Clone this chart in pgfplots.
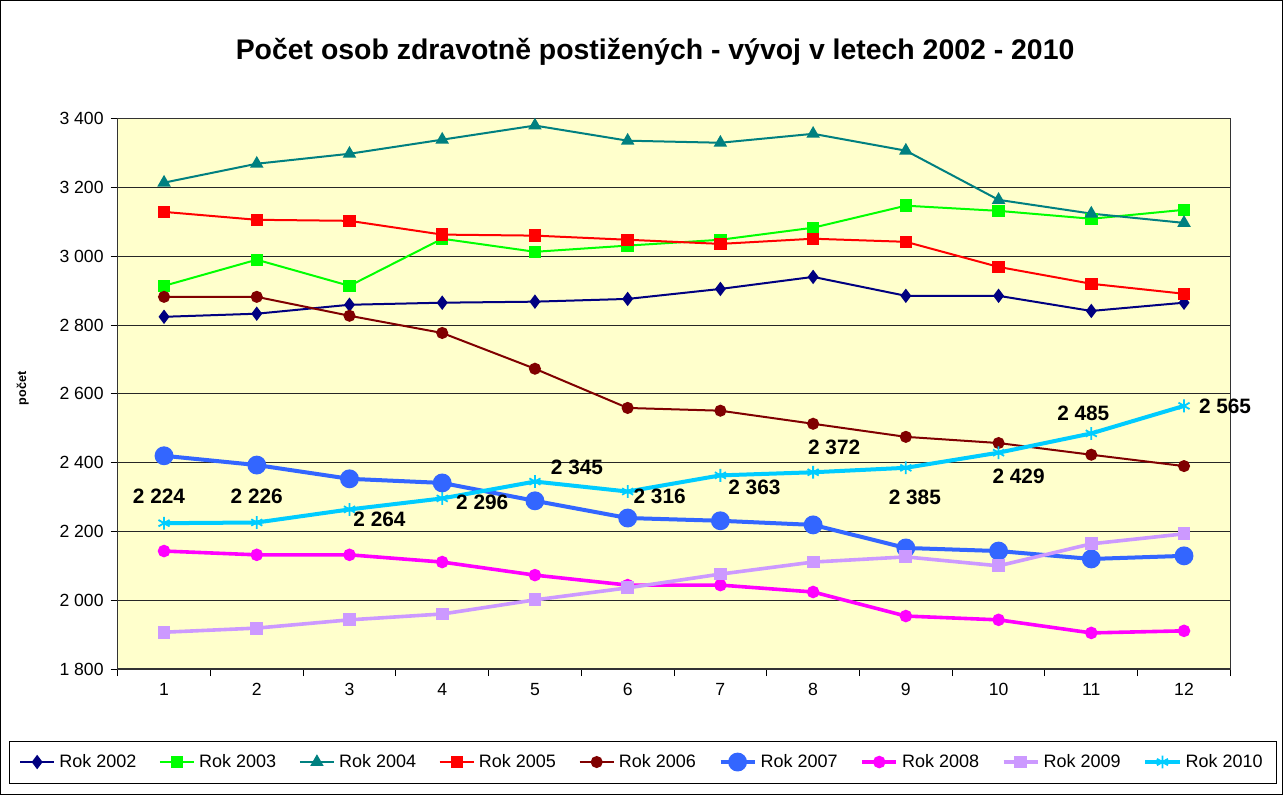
\documentclass[border=0pt]{standalone}
\usepackage{fontspec}
\setmainfont{Liberation Sans}
\usepackage{pgfplots}
\usepackage{pgfplotstable}
\pgfplotsset{compat=1.18}

\definecolor{c2002}{HTML}{000080}
\definecolor{c2003}{HTML}{00FF00}
\definecolor{c2004}{HTML}{008080}
\definecolor{c2005}{HTML}{FF0000}
\definecolor{c2006}{HTML}{800000}
\definecolor{c2007}{HTML}{3366FF}
\definecolor{c2008}{HTML}{FF00FF}
\definecolor{c2009}{HTML}{CC99FF}
\definecolor{c2010}{HTML}{00CCFF}
\definecolor{plotbg}{HTML}{FFFFCC}

% m = month, r = year series; dx/dy = label offsets for Rok 2010
\pgfplotstableread{
m r2002 r2003 r2004 r2005 r2006 r2007 r2008 r2009 r2010 dx dy
1  2824 2914 3214 3129 2882 2420 2143 1907 2224 -2.5 13.5
2  2833 2990 3269 3106 2882 2393 2132 1919 2226 0 13
3  2859 2914 3298 3103 2827 2353 2132 1943 2264 15 -5
4  2865 3051 3339 3063 2777 2341 2111 1960 2296 20 -2
5  2868 3013 3380 3060 2673 2289 2073 2001 2345 21 7
6  2876 3031 3336 3048 2559 2239 2044 2036 2316 16 -2.5
7  2905 3048 3330 3036 2551 2231 2044 2076 2363 17 -6
8  2940 3083 3356 3051 2513 2219 2024 2111 2372 10.5 12.5
9  2885 3147 3307 3042 2475 2152 1954 2126 2385 4.5 -15
10 2885 3132 3164 2969 2457 2143 1943 2100 2429 10 -12
11 2841 3109 3124 2920 2423 2120 1905 2164 2485 -4 10
12 2865 3135 3097 2891 2390 2129 1911 2193 2565 20.5 0
}\data

\begin{document}
\begin{tikzpicture}
\begin{axis}[
    name=ax,
    scale only axis,
    width=556pt, height=275pt,
    xmin=0.5, xmax=12.5,
    ymin=1800, ymax=3400,
    xtick={0.5,1.5,...,12.5},
    x tick label as interval,
    xticklabels={1,2,3,4,5,6,7,8,9,10,11,12},
    ytick={1800,2000,...,3400},
    xtick pos=bottom, ytick pos=left,
    ymajorgrids,
    grid style={black!85, line width=0.5pt},
    tick align=outside,
    major tick length=3.5pt,
    tick style={black, line width=0.5pt},
    axis line style={black!80, line width=0.6pt},
    axis background/.style={fill=plotbg},
    tick label style={font=\fontsize{8.8}{10}\selectfont},
    /pgf/number format/assume math mode=true,
    /pgf/number format/1000 sep={\ },
    title={Počet osob zdravotně postižených - vývoj v letech 2002 - 2010},
    title style={at={(axis description cs:0.483,1.100)}, anchor=center,
        font=\fontsize{14.2}{17}\selectfont\bfseries},
    ylabel={počet},
    ylabel style={at={(axis description cs:-0.0854,0.51)}, anchor=center,
        font=\fontsize{6.3}{8}\selectfont\bfseries},
    legend columns=9,
    legend style={at={(axis description cs:0.472,-0.169)}, anchor=center,
        draw=black, line width=0.5pt, inner xsep=5pt, inner ysep=4.5pt,
        font=\fontsize{9}{10}\selectfont,
        /tikz/every even column/.append style={column sep=9.3pt}},
    legend cell align=left,
]
\addplot[c2002, line width=1pt, mark=diamond*, mark size=2.8pt] table[x=m, y=r2002] {\data};
\addlegendentry{Rok 2002}
\addplot[c2003, line width=1pt, mark=square*, mark size=2.6pt] table[x=m, y=r2003] {\data};
\addlegendentry{Rok 2003}
\addplot[c2004, line width=1pt, mark=triangle*, mark size=2.9pt] table[x=m, y=r2004] {\data};
\addlegendentry{Rok 2004}
\addplot[c2005, line width=1pt, mark=square*, mark size=2.6pt] table[x=m, y=r2005] {\data};
\addlegendentry{Rok 2005}
\addplot[c2006, line width=1pt, mark=*, mark size=2.5pt] table[x=m, y=r2006] {\data};
\addlegendentry{Rok 2006}
\addplot[c2007, line width=2pt, mark=*, mark size=3.7pt] table[x=m, y=r2007] {\data};
\addlegendentry{Rok 2007}
\addplot[c2008, line width=1.8pt, mark=*, mark size=2.2pt] table[x=m, y=r2008] {\data};
\addlegendentry{Rok 2008}
\addplot[c2009, line width=1.8pt, mark=square*, mark size=2.3pt] table[x=m, y=r2009] {\data};
\addlegendentry{Rok 2009}
\addplot[c2010, line width=2pt, mark=asterisk, mark size=3.2pt,
    mark options={line width=0.9pt}] table[x=m, y=r2010] {\data};
\addlegendentry{Rok 2010}
% value labels of Rok 2010
\addplot[draw=none, forget plot,
    visualization depends on={\thisrow{dx} \as \ldx},
    visualization depends on={\thisrow{dy} \as \ldy},
    nodes near coords,
    every node near coord/.append style={anchor=center, text=black,
        xshift=\ldx pt, yshift=\ldy pt,
        font=\fontsize{10.4}{12}\selectfont\bfseries}]
    table[x=m, y=r2010] {\data};
\end{axis}
\draw[black, line width=0.6pt] ([shift={(-58.5pt,-62.5pt)}]ax.south west)
    rectangle ([shift={(582pt,334pt)}]ax.south west);
\end{tikzpicture}
\end{document}
